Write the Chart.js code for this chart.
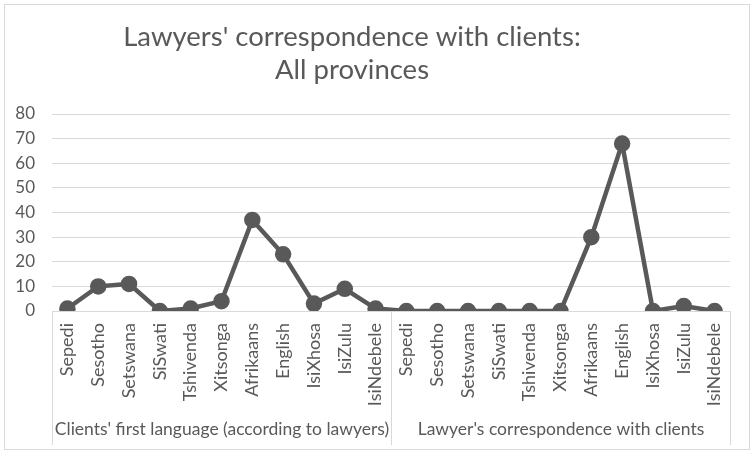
<!DOCTYPE html>
<html>
<head>
<meta charset="utf-8">
<script src="https://cdn.jsdelivr.net/npm/chart.js@4.4.1/dist/chart.umd.min.js"></script>
<style>
  html, body { margin: 0; padding: 0; background: #fff; }
  #wrap { width: 754px; height: 453px; position: relative; }
</style>
</head>
<body>
<div id="wrap"><canvas id="langChart" width="754" height="453"></canvas></div>
<script>
// data
const titleLines = ["Lawyers' correspondence with clients:", "All provinces"];
const languages = ['Sepedi', 'Sesotho', 'Setswana', 'SiSwati', 'Tshivenda', 'Xitsonga',
  'Afrikaans', 'English', 'IsiXhosa', 'IsiZulu', 'IsiNdebele'];
const groups = ["Clients' first language (according to lawyers)", "Lawyer's correspondence with clients"];
const firstLanguage = [1, 10, 11, 0, 1, 4, 37, 23, 3, 9, 1];
const correspondence = [0, 0, 0, 0, 0, 0, 30, 68, 0, 2, 0];
const yTicks = [0, 10, 20, 30, 40, 50, 60, 70, 80];

const labels = languages.concat(languages);
const values = firstLanguage.concat(correspondence);

const grey = '#595959';
const light = '#d9d9d9';
const font = 'Lato, "Open Sans", sans-serif';

// title, frame, group labels and separators
const extras = {
  id: 'extras',
  afterDraw(chart) {
    const { ctx, chartArea, scales } = chart;
    const x = scales.x;
    ctx.save();
    ctx.strokeStyle = light;
    ctx.lineWidth = 1;
    ctx.strokeRect(4.5, 4.5, chart.width - 9, chart.height - 8);

    ctx.fillStyle = grey;
    ctx.textAlign = 'center';
    ctx.textBaseline = 'middle';
    ctx.font = '27.5px ' + font;
    ctx.fillText(titleLines[0], 352, 37);
    ctx.fillText(titleLines[1], 352, 70);

    const n = languages.length;
    const step = x.getPixelForValue(1) - x.getPixelForValue(0);
    const bounds = [0, n, 2 * n].map(i => Math.round(x.getPixelForValue(i) - step / 2) + 0.5);
    ctx.beginPath();
    bounds.forEach(b => {
      ctx.moveTo(b, chartArea.bottom);
      ctx.lineTo(b, chart.height - 8);
    });
    ctx.stroke();

    ctx.font = '17.5px ' + font;
    groups.forEach((g, i) => {
      ctx.fillText(g, (bounds[i] + bounds[i + 1]) / 2, 429);
    });
    ctx.restore();
  }
};

new Chart(document.getElementById('langChart'), {
  type: 'line',
  data: {
    labels: labels,
    datasets: [{
      data: values,
      borderColor: grey,
      backgroundColor: grey,
      borderWidth: 4.5,
      pointRadius: 6,
      pointHoverRadius: 6,
      fill: false,
      tension: 0
    }]
  },
  options: {
    responsive: false,
    animation: false,
    layout: { padding: { left: 0, top: 114, right: 24, bottom: 0 } },
    plugins: { legend: { display: false }, title: { display: false }, tooltip: { enabled: false } },
    scales: {
      x: {
        offset: true,
        grid: { display: false, drawTicks: false },
        border: { display: true, color: light },
        ticks: {
          color: grey,
          font: { family: font, size: 18 },
          minRotation: 90,
          maxRotation: 90,
          padding: 12,
          autoSkip: false
        },
        afterFit(scale) { scale.height = 142; }
      },
      y: {
        min: 0,
        max: 80,
        grid: { color: light, drawTicks: false },
        border: { display: false },
        afterBuildTicks(scale) { scale.ticks = yTicks.map(v => ({ value: v })); },
        ticks: {
          color: grey,
          font: { family: font, size: 17 },
          padding: 17
        },
        afterFit(scale) { scale.width = 52; }
      }
    }
  },
  plugins: [extras]
});
</script>
</body>
</html>
